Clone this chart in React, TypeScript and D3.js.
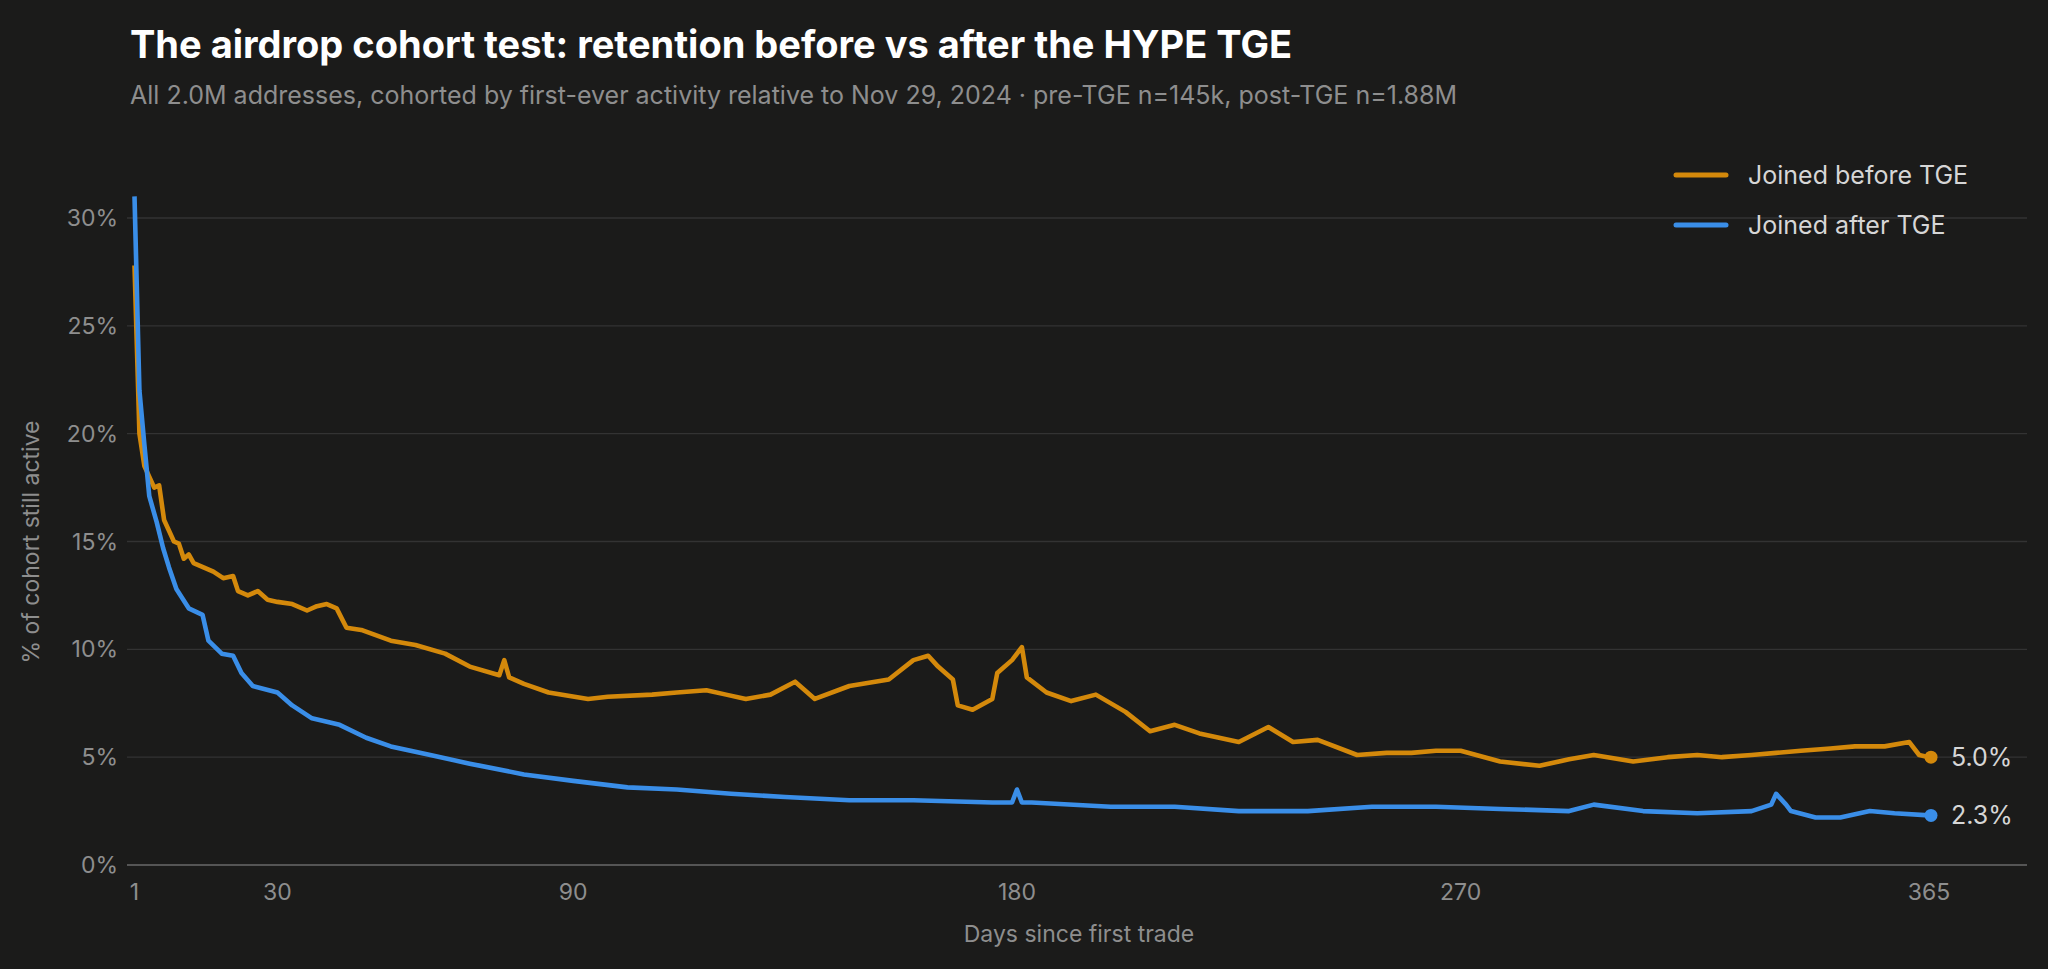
import { useMemo } from "react"
import * as d3 from "d3"

// before-TGE cohort (orange), sampled days and % still active
const beforeDays = [1, 2, 3, 5, 6, 7, 8, 9, 10, 11, 12, 13, 15, 17, 19, 21, 22, 24, 26, 28, 30, 33, 36, 38, 40, 42, 44, 47, 53, 58, 64, 69, 75, 76, 77, 80, 85, 93, 97, 106, 111, 117, 121, 125, 130, 135, 139, 146, 154, 159, 162, 164, 167, 168, 171, 175, 176, 179, 181, 182, 186, 191, 196, 202, 207, 212, 217, 225, 231, 236, 241, 249, 255, 260, 265, 270, 278, 286, 292, 297, 305, 312, 318, 323, 329, 334, 339, 345, 350, 356, 361, 363, 365]
const beforeVals = [27.8, 20, 18.5, 17.5, 17.6, 16, 15.5, 15, 14.9, 14.2, 14.4, 14, 13.8, 13.6, 13.3, 13.4, 12.7, 12.5, 12.7, 12.3, 12.2, 12.1, 11.8, 12.0, 12.1, 11.9, 11.0, 10.9, 10.4, 10.2, 9.8, 9.2, 8.8, 9.5, 8.7, 8.4, 8.0, 7.7, 7.8, 7.9, 8.0, 8.1, 7.9, 7.7, 7.9, 8.5, 7.7, 8.3, 8.6, 9.5, 9.7, 9.2, 8.6, 7.4, 7.2, 7.7, 8.9, 9.5, 10.1, 8.7, 8.0, 7.6, 7.9, 7.1, 6.2, 6.5, 6.1, 5.7, 6.4, 5.7, 5.8, 5.1, 5.2, 5.2, 5.3, 5.3, 4.8, 4.6, 4.9, 5.1, 4.8, 5.0, 5.1, 5.0, 5.1, 5.2, 5.3, 5.4, 5.5, 5.5, 5.7, 5.1, 5.0]

// after-TGE cohort (blue)
const afterDays = [1, 2, 3, 4, 5.5, 6.8, 8, 9.5, 12, 14.8, 16, 18.7, 21, 22.7, 25, 30, 33, 37, 42.6, 48, 53, 61, 69, 80, 90, 101, 111, 122, 133, 146, 159, 175, 179, 180, 181, 183, 199, 212, 225, 239, 252, 265, 278, 292, 297, 307, 318, 329, 333, 334, 336, 337, 342, 347, 353, 358, 365]
const afterVals = [31, 22, 19.5, 17.1, 15.9, 14.7, 13.8, 12.8, 11.9, 11.6, 10.4, 9.8, 9.7, 8.9, 8.3, 8.0, 7.4, 6.8, 6.5, 5.9, 5.5, 5.1, 4.7, 4.2, 3.9, 3.6, 3.5, 3.3, 3.15, 3.0, 3.0, 2.9, 2.9, 3.5, 2.9, 2.9, 2.7, 2.7, 2.5, 2.5, 2.7, 2.7, 2.6, 2.5, 2.8, 2.5, 2.4, 2.5, 2.8, 3.3, 2.8, 2.5, 2.2, 2.2, 2.5, 2.4, 2.3]

const yTicks = [0, 5, 10, 15, 20, 25, 30]
const xTicks = [1, 30, 90, 180, 270, 365]
const seriesNames = ["Joined before TGE", "Joined after TGE"]
const seriesColors = ["#D4890B", "#3A8EE8"]
const endLabels = ["5.0%", "2.3%"]

export default function App() {
  const W = 2048
  const H = 969
  const x = d3.scaleLinear().domain([1, 365]).range([134.5, 1929])
  const y = d3.scaleLinear().domain([0, 30]).range([865, 218])

  const lines = useMemo(() => {
    const gen = d3
      .line<[number, number]>()
      .x((d) => x(d[0]))
      .y((d) => y(d[1]))
      .curve(d3.curveLinear)
    return [
      gen(beforeDays.map((d, i) => [d, beforeVals[i]] as [number, number])),
      gen(afterDays.map((d, i) => [d, afterVals[i]] as [number, number])),
    ]
  }, [])

  const lastVals = [beforeVals[beforeVals.length - 1], afterVals[afterVals.length - 1]]
  const font = "Inter, 'Liberation Sans', sans-serif"

  return (
    <svg width={W} height={H} style={{ display: "block", position: "fixed", left: 0, top: 0 }} fontFamily={font}>
      <rect width={W} height={H} fill="#1b1b1a" />
      <text x={130} y={58} fill="#ffffff" fontSize={38} fontWeight={700}>
        The airdrop cohort test: retention before vs after the HYPE TGE
      </text>
      <text x={130} y={104} fill="#8e8e8e" fontSize={25}>
        All 2.0M addresses, cohorted by first-ever activity relative to Nov 29, 2024 · pre-TGE n=145k, post-TGE n=1.88M
      </text>

      {/* grid + y axis */}
      {yTicks.map((t) => (
        <g key={t}>
          {t > 0 && <line x1={127} x2={2027} y1={y(t)} y2={y(t)} stroke="#333333" strokeWidth={1.3} />}
          <text x={118} y={y(t) + 8} fill="#8e8e8e" fontSize={23} textAnchor="end">
            {t}%
          </text>
        </g>
      ))}
      <line x1={127} x2={2027} y1={y(0)} y2={y(0)} stroke="#555555" strokeWidth={2} />
      <text transform={`translate(39,542) rotate(-90)`} fill="#8e8e8e" fontSize={23} textAnchor="middle">
        % of cohort still active
      </text>

      {/* x axis */}
      {xTicks.map((t) => (
        <text key={t} x={x(t)} y={900} fill="#8e8e8e" fontSize={23} textAnchor="middle">
          {t}
        </text>
      ))}
      <text x={1079} y={942} fill="#8e8e8e" fontSize={23} textAnchor="middle">
        Days since first trade
      </text>

      {/* series */}
      {lines.map((p, i) => (
        <path key={i} d={p || ""} fill="none" stroke={seriesColors[i]} strokeWidth={4.6} strokeLinejoin="round" />
      ))}
      {lastVals.map((v, i) => (
        <g key={i}>
          <circle cx={x(365) + 2} cy={y(v)} r={6.5} fill={seriesColors[i]} />
          <text x={1951} y={y(v) + 9} fill="#d6d6d6" fontSize={25}>
            {endLabels[i]}
          </text>
        </g>
      ))}

      {/* legend */}
      {seriesNames.map((n, i) => (
        <g key={n} transform={`translate(1676,${175 + i * 50})`}>
          <line x1={0} x2={50} y1={0} y2={0} stroke={seriesColors[i]} strokeWidth={5} strokeLinecap="round" />
          <text x={72} y={9} fill="#d6d6d6" fontSize={25}>
            {n}
          </text>
        </g>
      ))}
    </svg>
  )
}
